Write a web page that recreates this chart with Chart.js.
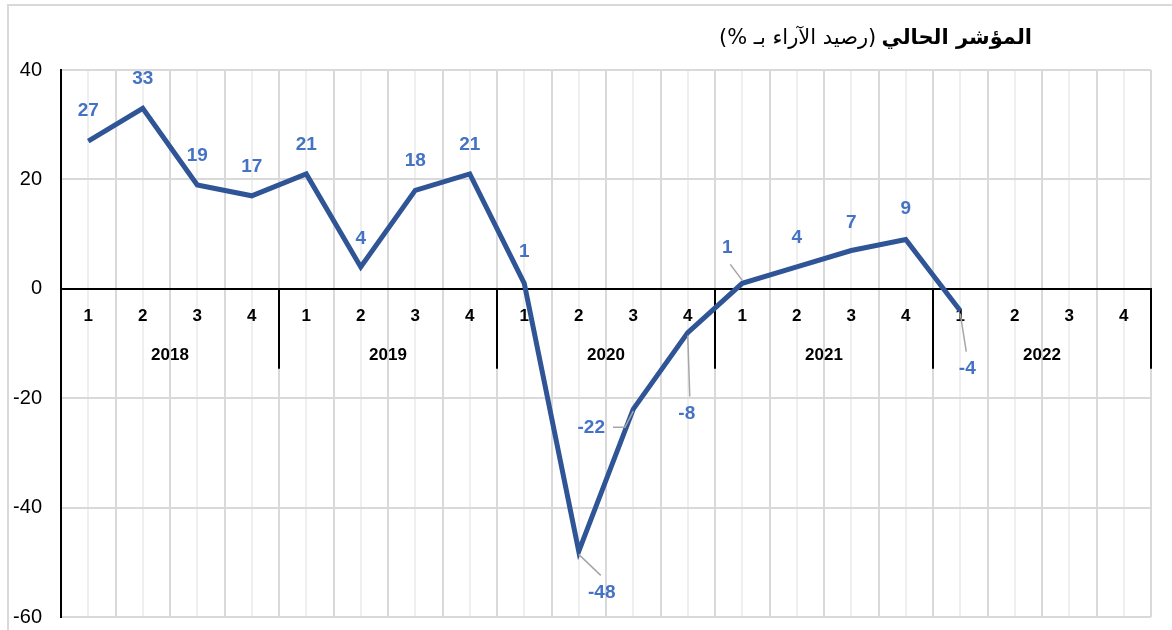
<!DOCTYPE html>
<html>
<head>
<meta charset="utf-8">
<script src="https://cdn.jsdelivr.net/npm/chart.js@4/dist/chart.umd.min.js"></script>
<style>
  body { margin: 0; background: #fff; }
  #wrap { position: relative; width: 1172px; height: 630px; overflow: hidden; }
  #frame { position: absolute; left: 7px; top: 4px; width: 1300px; height: 800px;
           border-left: 2px solid #d9d9d9; border-top: 2px solid #d9d9d9; }
  #title { position: absolute; right: 140px; top: 27px; direction: rtl; white-space: nowrap;
           font-family: "DejaVu Sans", "Liberation Sans", sans-serif; color: #000; line-height: 1; }
  #title b { font-size: 21px; }
  #title span { font-size: 21px; }
</style>
</head>
<body>
<div id="wrap">
  <div id="frame"></div>
  <canvas id="chart"></canvas>
  <div id="title"><b>المؤشر الحالي</b> <span>(رصيد الآراء بـ %)</span></div>
</div>
<script>
// quarters per year, current index (balance of opinions, %)
const years = ['2018', '2019', '2020', '2021', '2022'];
const quarters = ['1', '2', '3', '4'];
const indexValues = [27, 33, 19, 17, 21, 4, 18, 21, 1, -48, -22, -8, 1, 4, 7, 9, -4];
const yTicks = [-60, -40, -20, 0, 20, 40];

// label placement relative to the point: [dx, dy, leader line?]
const labelPlacement = [
    [0, -30], [0, -30], [0, -29], [0, -29], [0, -29], [0, -28], [0, -30], [0, -29],
    [0, -32], [23, 41, true], [-42, 19, true], [-1, 81, true], [-15, -36, true],
    [0, -29], [0, -28], [0, -31], [7, 58, true]
];

const labels = [];
years.forEach(y => quarters.forEach(q => labels.push(q)));

const blue = '#4472C4';

const yearGroups = {
    id: 'yearGroups',
    beforeDatasetsDraw(chart) {
        const ctx = chart.ctx;
        const x = chart.scales.x;
        const y0 = chart.scales.y.getPixelForValue(0);
        ctx.save();
        ctx.strokeStyle = '#000';
        ctx.lineWidth = 2;
        for (let i = 0; i <= years.length; i++) {
            const px = Math.round(x.getPixelForValue(i * 4 - 0.5));
            ctx.beginPath();
            ctx.moveTo(px, y0);
            ctx.lineTo(px, y0 + 80);
            ctx.stroke();
        }
        ctx.fillStyle = '#000';
        ctx.font = 'bold 17px "Liberation Sans", Arial, sans-serif';
        ctx.textAlign = 'center';
        ctx.textBaseline = 'middle';
        years.forEach((yr, i) => {
            const a = x.getPixelForValue(i * 4 - 0.5);
            const b = x.getPixelForValue(i * 4 + 3.5);
            ctx.fillText(yr, (a + b) / 2, y0 + 67);
        });
        ctx.restore();
    }
};

const valueLabels = {
    id: 'valueLabels',
    afterDatasetsDraw(chart) {
        const ctx = chart.ctx;
        const meta = chart.getDatasetMeta(0);
        ctx.save();
        ctx.font = 'bold 19px "Liberation Sans", Arial, sans-serif';
        ctx.textAlign = 'center';
        ctx.textBaseline = 'middle';
        meta.data.forEach((pt, i) => {
            const [dx, dy, leader] = labelPlacement[i];
            const lx = pt.x + dx, ly = pt.y + dy;
            const txt = String(indexValues[i]);
            if (leader) {
                ctx.strokeStyle = '#a6a6a6';
                ctx.lineWidth = 1.5;
                ctx.beginPath();
                if (Math.abs(dx) > Math.abs(dy)) {
                    const w = ctx.measureText(txt).width;
                    const sx = lx + w / 2 + 8;
                    ctx.moveTo(sx, ly - 1);
                    ctx.lineTo(sx + 12, ly - 1);
                    ctx.lineTo(pt.x, pt.y + 2);
                } else {
                    const k = dy > 0 ? 1 : -1;
                    ctx.moveTo(pt.x, pt.y + 3 * k);
                    ctx.lineTo(lx + (dx > 0 ? -1 : 3), ly - 17 * k);
                }
                ctx.stroke();
            }
            ctx.fillStyle = blue;
            ctx.fillText(txt, lx, ly);
        });
        ctx.restore();
    }
};

new Chart(document.getElementById('chart'), {
    type: 'line',
    data: {
        labels: labels,
        datasets: [{
            data: indexValues,
            borderColor: '#2F5597',
            borderWidth: 5,
            pointRadius: 0,
            tension: 0,
            fill: false
        }]
    },
    options: {
        responsive: true,
        maintainAspectRatio: false,
        animation: false,
        layout: { padding: { left: 7, top: 70, right: 21, bottom: 13 } },
        plugins: { legend: { display: false }, tooltip: { enabled: false } },
        scales: {
            x: {
                type: 'category',
                offset: true,
                position: { y: 0 },
                afterFit: s => { s.height = 0; },
                grid: { offset: true, color: '#d9d9d9', lineWidth: 2, drawTicks: false },
                border: { color: '#000', width: 2 },
                ticks: {
                    color: '#000',
                    padding: 17,
                    maxRotation: 0,
                    autoSkip: false,
                    font: { family: '"Liberation Sans", Arial, sans-serif', size: 17, weight: 'bold' }
                }
            },
            x2: {
                type: 'category',
                axis: 'x',
                offset: true,
                position: { y: 0 },
                afterFit: s => { s.height = 0; },
                grid: { offset: false, color: '#efefef', lineWidth: 2, drawTicks: false },
                border: { display: false },
                ticks: { display: false }
            },
            y: {
                min: yTicks[0],
                max: yTicks[yTicks.length - 1],
                afterFit: s => { s.width = 54; s.paddingTop = 0; s.paddingBottom = 0; },
                afterBuildTicks: s => { s.ticks = yTicks.map(v => ({ value: v })); },
                grid: {
                    color: c => c.tick && c.tick.value === 0 ? 'rgba(0,0,0,0)' : '#d9d9d9',
                    lineWidth: 2,
                    drawTicks: false
                },
                border: { color: '#000', width: 2 },
                ticks: {
                    color: '#000',
                    padding: 19,
                    font: { family: '"Liberation Sans", Arial, sans-serif', size: 20 }
                }
            }
        }
    },
    plugins: [yearGroups, valueLabels]
});
</script>
</body>
</html>
